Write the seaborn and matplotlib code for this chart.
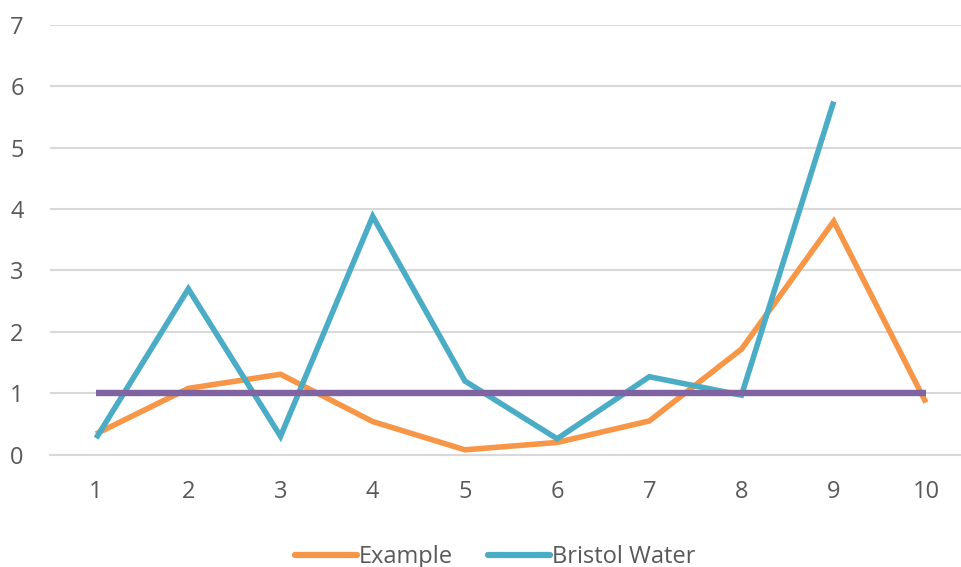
import matplotlib
matplotlib.use("Agg")
import matplotlib.pyplot as plt
from matplotlib.lines import Line2D
import numpy as np
import pandas as pd
import seaborn as sns

# Data
categories = [1, 2, 3, 4, 5, 6, 7, 8, 9, 10]
example = [0.34, 1.08, 1.31, 0.54, 0.08, 0.20, 0.55, 1.72, 3.80, 0.85]
bristol_water = [0.27, 2.70, 0.30, 3.88, 1.20, 0.26, 1.27, 0.97, 5.75, np.nan]
baseline = [1, 1, 1, 1, 1, 1, 1, 1, 1, 1]
y_ticks = [0, 1, 2, 3, 4, 5, 6, 7]

sns.set_theme(style="white")
plt.rcParams["font.family"] = ["Open Sans", "DejaVu Sans"]

ORANGE = "#F79646"
AQUA = "#4BACC6"
PURPLE = "#8064A2"
GRID = "#D9D9D9"
TEXT = "#595959"

df = pd.DataFrame({
    "x": categories * 3,
    "value": example + bristol_water + baseline,
    "series": ["Example"] * 10 + ["Bristol Water"] * 10 + ["Target"] * 10,
})

fig = plt.figure(figsize=(9.62, 5.67), dpi=100)
ax = fig.add_axes([0.052, 0.198, 0.9584, 0.7584])

palette = {"Example": ORANGE, "Bristol Water": AQUA, "Target": PURPLE}
sizes = {"Example": 4.0, "Bristol Water": 4.0, "Target": 4.6}
for name in ["Example", "Bristol Water", "Target"]:
    sub = df[df["series"] == name].dropna()
    sns.lineplot(data=sub, x="x", y="value", ax=ax, color=palette[name],
                 linewidth=sizes[name], legend=False, zorder=3,
                 solid_capstyle="butt", solid_joinstyle="miter")

ax.set_xlim(0.5, 10.5)
ax.set_ylim(0, 7)
ax.set_yticks(y_ticks)
ax.set_xticks(categories)
ax.set_xticklabels([str(c) for c in categories])
ax.yaxis.grid(True, color=GRID, linewidth=1.5, zorder=0)
ax.xaxis.grid(False)
for side in ["top", "right", "left"]:
    ax.spines[side].set_visible(False)
ax.spines["bottom"].set_color(GRID)
ax.spines["bottom"].set_linewidth(1.5)
ax.tick_params(axis="y", length=0, pad=19, labelsize=17, labelcolor=TEXT)
ax.tick_params(axis="x", length=0, pad=18, labelsize=17, labelcolor=TEXT)
ax.set_xlabel("")
ax.set_ylabel("")

handles = [
    Line2D([], [], color=ORANGE, linewidth=4.5),
    Line2D([], [], color=AQUA, linewidth=4.5),
]
fig.legend(handles, ["Example", "Bristol Water"], loc="center",
           bbox_to_anchor=(0.515, 0.018), ncol=2, frameon=False,
           fontsize=17, labelcolor=TEXT, handlelength=2.6,
           handletextpad=0.1, columnspacing=1.5)

fig.savefig("out.png", dpi=100)
